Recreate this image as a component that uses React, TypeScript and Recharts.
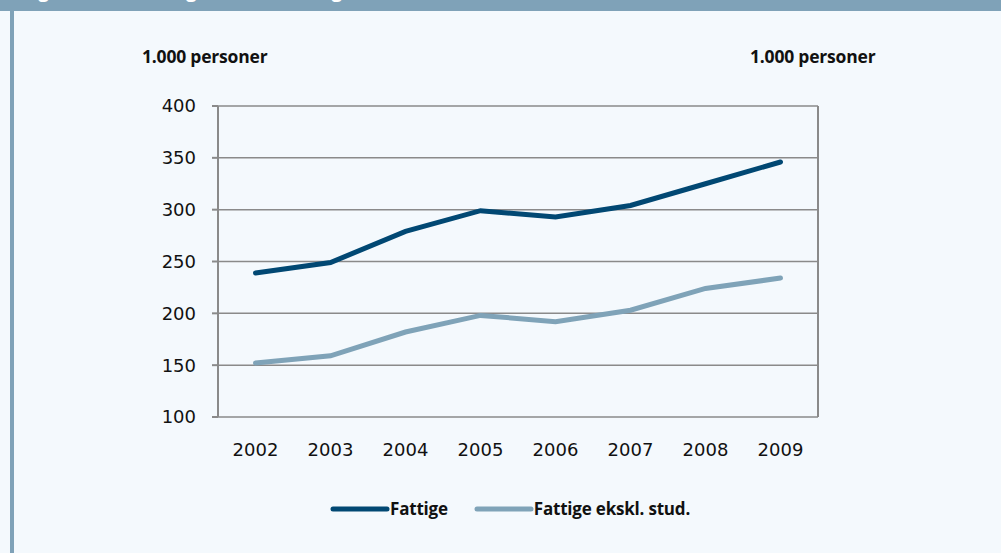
import React from "react";
import { LineChart, Line, XAxis, YAxis, CartesianGrid } from "recharts";

const years = [2002, 2003, 2004, 2005, 2006, 2007, 2008, 2009];
const fattige = [239, 249, 279, 299, 293, 304, 325, 346];
const fattigeEkskl = [152, 159, 182, 198, 192, 203, 224, 234];
const yTicks = [100, 150, 200, 250, 300, 350, 400];
const boundaryTicks = [2001.5, 2002.5, 2003.5, 2004.5, 2005.5, 2006.5, 2007.5, 2008.5, 2009.5];
const seriesNames = ["Fattige", "Fattige ekskl. stud."];
const unitLabel = "1.000 personer";
const titleText = "Figur 1.1 Udviklingen i antal fattige";

const data = years.map((y, i) => ({ year: y, a: fattige[i], b: fattigeEkskl[i] }));

const DARK = "#014873";
const LIGHT = "#7fa3b8";
const GRID = "#8a8a8a";
const TICKFONT = "'DejaVu Sans', sans-serif";
const BOLDFONT = "'Open Sans', sans-serif";

export default function App() {
  const tickLine = { stroke: GRID, strokeWidth: 2 };
  return (
    <div
      style={{
        position: "fixed",
        left: 0,
        top: 0,
        width: 1001,
        height: 553,
        background: "#f4f9fd",
        overflow: "hidden",
        fontFamily: BOLDFONT,
      }}
    >
      <div style={{ position: "absolute", left: 0, top: 0, width: 1001, height: 11, background: "#7fa2b8", overflow: "hidden" }}>
        <div style={{ position: "absolute", left: 22, top: -23, color: "#ffffff", fontSize: 19, lineHeight: "26px", fontWeight: 700, whiteSpace: "nowrap" }}>
          {titleText}
        </div>
      </div>
      <div style={{ position: "absolute", left: 10, top: 0, width: 4, height: 553, background: "#7fa2b8" }} />
      <div style={{ position: "absolute", left: 142, top: 44, fontSize: 17.5, fontWeight: 700, color: "#111", whiteSpace: "nowrap", letterSpacing: -0.2 }}>{unitLabel}</div>
      <div style={{ position: "absolute", left: 750, top: 44, fontSize: 17.5, fontWeight: 700, color: "#111", whiteSpace: "nowrap", letterSpacing: -0.2 }}>{unitLabel}</div>
      <div style={{ position: "absolute", left: 0, top: 0 }}>
        <LineChart width={1001} height={553} data={data} margin={{ top: 106, left: 158, right: 123, bottom: 96 }}>
          <CartesianGrid horizontal vertical={false} stroke={GRID} strokeWidth={1.5} yAxisId="L" />
          <XAxis
            xAxisId="ticks"
            dataKey="year"
            type="number"
            domain={[2001.5, 2009.5]}
            ticks={boundaryTicks}
            height={0}
            axisLine={{ stroke: GRID, strokeWidth: 2 }}
            tickLine={tickLine}
            tickSize={6}
            tick={{ fill: "none", fontSize: 1 }}
            interval={0}
            allowDataOverflow
          />
          <XAxis
            xAxisId="labels"
            dataKey="year"
            type="number"
            domain={[2001.5, 2009.5]}
            ticks={years}
            height={40}
            axisLine={false}
            tickLine={false}
            tickMargin={20}
            interval={0}
            tick={{ fill: "#111", fontSize: 18, fontFamily: TICKFONT }}
          />
          <YAxis
            yAxisId="L"
            orientation="left"
            domain={[100, 400]}
            ticks={yTicks}
            width={60}
            axisLine={{ stroke: GRID, strokeWidth: 2 }}
            tickLine={tickLine}
            tickSize={6}
            tickMargin={16}
            interval={0}
            tick={{ fill: "#111", fontSize: 18, fontFamily: TICKFONT }}
          />
          <YAxis
            yAxisId="R"
            orientation="right"
            domain={[100, 400]}
            ticks={yTicks}
            width={60}
            axisLine={{ stroke: GRID, strokeWidth: 2 }}
            tickLine={tickLine}
            tickSize={6}
            tickMargin={11}
            interval={0}
            tick={{ fill: "#111", fontSize: 18, fontFamily: TICKFONT, textAnchor: "start" }}
          />
          <Line xAxisId="ticks" yAxisId="L" dataKey="a" name={seriesNames[0]} stroke={DARK} strokeWidth={5} dot={false} strokeLinecap="round" isAnimationActive={false} />
          <Line xAxisId="ticks" yAxisId="L" dataKey="b" name={seriesNames[1]} stroke={LIGHT} strokeWidth={5} dot={false} strokeLinecap="round" isAnimationActive={false} />
        </LineChart>
      </div>
      <div style={{ position: "absolute", left: 330, top: 497, display: "flex", fontSize: 17, fontWeight: 700, color: "#111", letterSpacing: -0.2 }}>
        {seriesNames.map((n, i) => (
          <div key={n} style={{ display: "flex", alignItems: "center", marginRight: i === 0 ? 26 : 0 }}>
            <svg width={60} height={12}>
              <line x1={3} y1={6} x2={57} y2={6} stroke={i === 0 ? DARK : LIGHT} strokeWidth={5} strokeLinecap="round" />
            </svg>
            <span>{n}</span>
          </div>
        ))}
      </div>
    </div>
  );
}
